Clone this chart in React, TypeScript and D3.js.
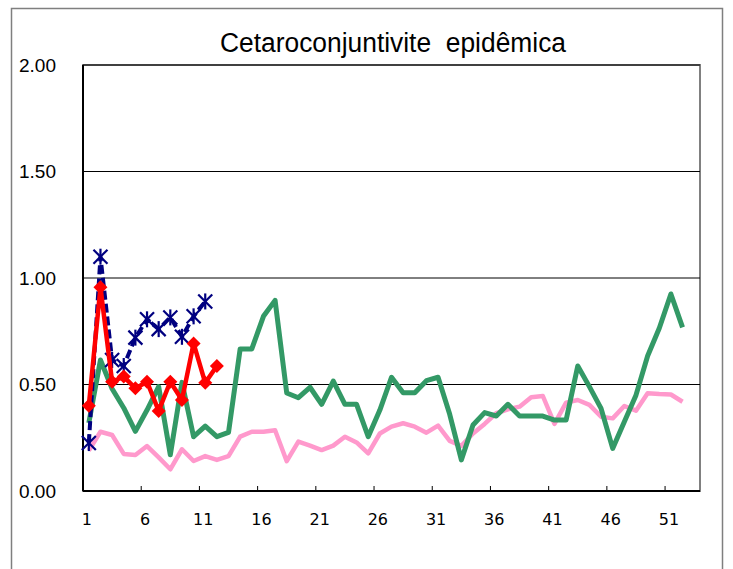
import React from "react";
import * as d3 from "d3";

const title = "Cetaroconjuntivite  epidêmica";
const nCategories = 53;
const xTickLabels = [1, 6, 11, 16, 21, 26, 31, 36, 41, 46, 51];
const yTicks = [0, 0.5, 1, 1.5, 2];

const greenSeries = [
  0.32, 0.615, 0.48, 0.39, 0.28, 0.38, 0.49, 0.17, 0.51, 0.255,
  0.305, 0.255, 0.275, 0.667, 0.667, 0.82, 0.895, 0.46, 0.438, 0.487,
  0.407, 0.516, 0.407, 0.407, 0.255, 0.38, 0.534, 0.461, 0.461, 0.518,
  0.534, 0.36, 0.146, 0.31, 0.368, 0.352, 0.407, 0.352, 0.352, 0.352,
  0.333, 0.333, 0.587, 0.49, 0.388, 0.2, 0.325, 0.45, 0.634, 0.764,
  0.925, 0.768,
];
const pinkSeries = [
  0.19, 0.278, 0.263, 0.174, 0.169, 0.211, 0.158, 0.102, 0.196, 0.141,
  0.164, 0.146, 0.164, 0.255, 0.278, 0.278, 0.285, 0.14, 0.232, 0.213,
  0.192, 0.213, 0.255, 0.228, 0.177, 0.27, 0.302, 0.318, 0.302, 0.274,
  0.307, 0.235, 0.212, 0.27, 0.315, 0.365, 0.383, 0.396, 0.44, 0.446,
  0.315, 0.415, 0.427, 0.404, 0.349, 0.341, 0.399, 0.377, 0.459, 0.455,
  0.453, 0.419,
];
const blueSeries = [0.225, 1.1, 0.615, 0.587, 0.72, 0.806, 0.76, 0.815, 0.724, 0.82, 0.89];
const redSeries = [0.4, 0.956, 0.513, 0.537, 0.482, 0.513, 0.376, 0.513, 0.427, 0.693, 0.508, 0.587];

const W = 733;
const H = 569;
const left = 83;
const right = 700;
const top = 65;
const bottom = 491;

export default function App() {
  const x = d3.scaleLinear().domain([0.5, nCategories + 0.5]).range([left, right]);
  const y = d3.scaleLinear().domain([0, 2]).range([bottom, top]);
  const line = d3
    .line<number>()
    .x((_, i) => x(i + 1))
    .y((d) => y(d));

  const tickBoundaries = d3.range(5.5, nCategories, 5);

  const star = (cx: number, cy: number, k: number) => {
    const r = 7;
    return (
      <g key={k} stroke="#000080" strokeWidth={2.2}>
        <line x1={cx - r} y1={cy - r} x2={cx + r} y2={cy + r} />
        <line x1={cx - r} y1={cy + r} x2={cx + r} y2={cy - r} />
        <line x1={cx} y1={cy - r - 1} x2={cx} y2={cy + r + 1} />
      </g>
    );
  };
  const diamond = (cx: number, cy: number, k: number) => {
    const r = 7;
    return (
      <path
        key={k}
        d={`M${cx},${cy - r}L${cx + r},${cy}L${cx},${cy + r}L${cx - r},${cy}Z`}
        fill="#FF0000"
      />
    );
  };

  return (
    <svg
      width={W}
      height={H}
      style={{ position: "absolute", left: 0, top: 0, background: "#fff" }}
    >
      <rect x={11.5} y={8.5} width={711} height={620} fill="#fff" stroke="#7f7f7f" strokeWidth={1.5} />
      <text
        x={393}
        y={52}
        textAnchor="middle"
        fontFamily="Liberation Sans, Arial, sans-serif"
        fontSize={27}
        textLength={346}
        lengthAdjust="spacingAndGlyphs"
        style={{ whiteSpace: "pre" }}
      >
        {title}
      </text>

      <rect x={left} y={top} width={right - left} height={bottom - top} fill="#fff" stroke="#808080" strokeWidth={2} />

      {yTicks.filter((t) => t > 0).map((t) => (
        <line key={t} x1={left} x2={right} y1={y(t)} y2={y(t)} stroke="#000" strokeWidth={1} />
      ))}

      {yTicks.map((t) => (
        <text
          key={t}
          x={56}
          y={y(t)}
          dy="0.36em"
          textAnchor="end"
          fontFamily="Liberation Sans, Arial, sans-serif"
          fontSize={19}
        >
          {t.toFixed(2)}
        </text>
      ))}

      <line x1={left} x2={left} y1={top} y2={bottom} stroke="#000" strokeWidth={2} />
      <line x1={left} x2={right} y1={bottom} y2={bottom} stroke="#000" strokeWidth={2} />
      {tickBoundaries.map((b) => (
        <line key={b} x1={x(b)} x2={x(b)} y1={bottom} y2={bottom - 5} stroke="#000" strokeWidth={1} />
      ))}
      {xTickLabels.map((l) => (
        <text
          key={l}
          x={x(l) - 2}
          y={525}
          textAnchor="middle"
          fontFamily="DejaVu Sans, sans-serif"
          fontSize={16}
        >
          {l}
        </text>
      ))}

      <path d={line(pinkSeries) || ""} fill="none" stroke="#FF99CC" strokeWidth={4.5} strokeLinejoin="round" />
      <path d={line(greenSeries) || ""} fill="none" stroke="#339966" strokeWidth={5} strokeLinejoin="round" />
      <path
        d={line(blueSeries) || ""}
        fill="none"
        stroke="#000080"
        strokeWidth={4}
        strokeDasharray="9,4"
        strokeLinejoin="round"
      />
      {blueSeries.map((v, i) => star(x(i + 1), y(v), i))}
      <path d={line(redSeries) || ""} fill="none" stroke="#FF0000" strokeWidth={4.5} strokeLinejoin="round" />
      {redSeries.map((v, i) => diamond(x(i + 1), y(v), i))}
    </svg>
  );
}
